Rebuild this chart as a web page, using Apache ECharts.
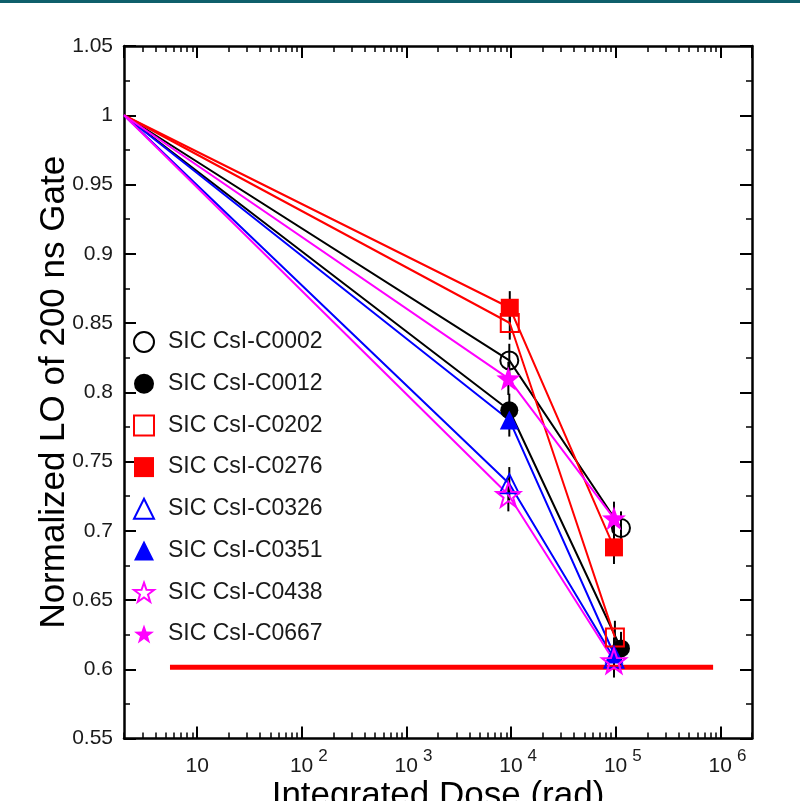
<!DOCTYPE html>
<html>
<head>
<meta charset="utf-8">
<script src="https://cdn.jsdelivr.net/npm/echarts@6/dist/echarts.min.js"></script>
<style>
  html, body { margin: 0; padding: 0; background: #fff; }
  #chart { width: 800px; height: 801px; }
</style>
</head>
<body>
<div id="chart"></div>
<script>
// crystal names, in legend order
var names = ['SIC CsI-C0002', 'SIC CsI-C0012', 'SIC CsI-C0202', 'SIC CsI-C0276',
             'SIC CsI-C0326', 'SIC CsI-C0351', 'SIC CsI-C0438', 'SIC CsI-C0667'];
// dose points (rad): start, ~1e4, ~1e5 (per crystal)
var startDose = 2;
var midDose = [9600, 9600, 9700, 9700, 9600, 9600, 9400, 9400];
var highDose = [112000, 112000, 98000, 96000, 96000, 96000, 96000, 96000];
// normalized light output
var startLO = 1.0;
var midLO = [0.823, 0.787, 0.850, 0.861, 0.734, 0.780, 0.726, 0.810];
var highLO = [0.702, 0.615, 0.623, 0.688, 0.608, 0.611, 0.606, 0.709];
var errLO = 0.012;
// spec line
var specDose = [5.5, 850000];
var specLO = 0.6015;
// x tick decades
var decades = [1, 10, 100, 1000, 10000, 100000, 1000000];

var colors = ['#000000', '#000000', '#ff0000', '#ff0000', '#0000ff', '#0000ff', '#ff00ff', '#ff00ff'];
var starPath = 'path://M0,-10 L2.35,-3.24 L9.51,-3.09 L3.8,1.24 L5.88,8.09 L0,4 L-5.88,8.09 L-3.8,1.24 L-9.51,-3.09 L-2.35,-3.24 Z';
var symbols = ['circle', 'circle', 'rect', 'rect', 'triangle', 'triangle', starPath, starPath];
var sizes = [18, 18, 18, 18, 19, 19, 24, 24];
var filled = [false, true, false, true, false, true, false, true];

var font = 'Liberation Sans';
var chart = echarts.init(document.getElementById('chart'));

// minor log ticks (2..9 per decade) placed on a helper value axis in log10 units
var minorTicks = [];
decades.forEach(function (d) {
    for (var k = 2; k <= 9; k++) minorTicks.push(Math.log10(d * k));
});

var series = [];
var legendData = [];

// error bars
var errData = [];
for (var i = 0; i < names.length; i++) {
    errData.push([midDose[i], midLO[i] - errLO, midLO[i] + errLO]);
    errData.push([highDose[i], highLO[i] - errLO, highLO[i] + errLO]);
}
series.push({
    type: 'custom',
    xAxisIndex: 0, yAxisIndex: 0,
    z: 1,
    data: errData,
    encode: { x: 0, y: [1, 2] },
    renderItem: function (params, api) {
        var p1 = api.coord([api.value(0), api.value(1)]);
        var p2 = api.coord([api.value(0), api.value(2)]);
        return {
            type: 'line',
            shape: { x1: p1[0], y1: p1[1], x2: p2[0], y2: p2[1] },
            style: { stroke: '#000', lineWidth: 2 }
        };
    }
});

// spec line
series.push({
    type: 'line',
    z: 2,
    symbol: 'none',
    lineStyle: { color: '#ff0000', width: 5 },
    data: [[specDose[0], specLO], [specDose[1], specLO]]
});

for (var j = 0; j < names.length; j++) {
    var style = filled[j]
        ? { color: colors[j], borderColor: colors[j], borderWidth: 0 }
        : { color: 'rgba(255,255,255,0)', borderColor: colors[j], borderWidth: 2 };
    series.push({
        name: names[j],
        type: 'line',
        z: 3,
        symbol: symbols[j],
        symbolSize: sizes[j],
        lineStyle: { color: colors[j], width: 2 },
        itemStyle: style,
        data: [
            { value: [startDose, startLO], symbol: 'none' },
            [midDose[j], midLO[j]],
            [highDose[j], highLO[j]]
        ]
    });
    legendData.push({
        name: names[j],
        icon: symbols[j],
        itemStyle: filled[j]
            ? { color: colors[j], borderWidth: 0 }
            : { color: '#fff', borderColor: colors[j], borderWidth: 2 }
    });
}

var gridBox = { left: 124, top: 46, right: 48, bottom: 62.5, outerBoundsMode: 'none', containLabel: false };
var frame = { show: true, onZero: false, lineStyle: { color: '#000', width: 2.5 } };

var option = {
    animation: false,
    backgroundColor: '#fff',
    graphic: [{
        type: 'rect', left: 0, top: 0,
        shape: { width: 800, height: 3 },
        style: { fill: '#0e5f6b' }
    }],
    grid: [
        Object.assign({}, gridBox),
        Object.assign({}, gridBox)
    ],
    legend: {
        orient: 'vertical',
        left: 133, top: 330,
        padding: 0,
        itemWidth: 20, itemHeight: 20,
        itemGap: 17.7,
        textStyle: { fontFamily: font, fontSize: 23, color: '#1a1a1a', lineHeight: 24, padding: [0, 0, 0, 9] },
        data: legendData
    },
    xAxis: [{
        type: 'log', gridIndex: 0, position: 'bottom',
        logBase: 10, min: 2, max: 2000000,
        name: 'Integrated Dose (rad)', nameLocation: 'middle', nameGap: 40,
        nameMoveOverlap: false,
        nameTextStyle: { fontFamily: font, fontSize: 35, color: '#000' },
        axisLine: frame,
        axisTick: { inside: true, length: 12, lineStyle: { color: '#000', width: 2 } },
        splitLine: { show: false },
        axisLabel: {
            showMinLabel: false, showMaxLabel: false, margin: 9,
            formatter: function (v) {
                var e = Math.round(Math.log10(v));
                if (e === 1) return '{b|10}';
                return '{p|}{b|10}{s|' + e + '}';
            },
            rich: {
                b: { fontFamily: font, fontSize: 21, color: '#1a1a1a', lineHeight: 38 },
                s: { fontFamily: font, fontSize: 17, color: '#1a1a1a', lineHeight: 10, verticalAlign: 'top', padding: [0, 0, 0, 5] },
                p: { width: 14 }
            }
        }
    }, {
        type: 'log', gridIndex: 0, position: 'top',
        logBase: 10, min: 2, max: 2000000,
        axisLine: frame,
        axisTick: { inside: true, length: 12, lineStyle: { color: '#000', width: 2 } },
        axisLabel: { show: false },
        splitLine: { show: false }
    }, {
        type: 'value', gridIndex: 1, position: 'bottom',
        min: Math.log10(2), max: Math.log10(2000000),
        axisLine: { show: false },
        axisTick: { inside: true, length: 6, customValues: minorTicks, lineStyle: { color: '#000', width: 1.5 } },
        axisLabel: { show: false },
        splitLine: { show: false }
    }, {
        type: 'value', gridIndex: 1, position: 'top',
        min: Math.log10(2), max: Math.log10(2000000),
        axisLine: { show: false },
        axisTick: { inside: true, length: 6, customValues: minorTicks, lineStyle: { color: '#000', width: 1.5 } },
        axisLabel: { show: false },
        splitLine: { show: false }
    }],
    yAxis: [{
        type: 'value', gridIndex: 0, position: 'left',
        min: 0.55, max: 1.05, interval: 0.05,
        name: 'Normalized LO of 200 ns Gate', nameLocation: 'middle', nameGap: 52,
        nameMoveOverlap: false,
        nameTextStyle: { fontFamily: font, fontSize: 35, color: '#000' },
        axisLine: frame,
        axisTick: { inside: true, length: 12, lineStyle: { color: '#000', width: 2 } },
        minorTick: { show: true, splitNumber: 2, length: 6, lineStyle: { color: '#000', width: 1.5 } },
        splitLine: { show: false },
        axisLabel: { fontFamily: font, fontSize: 21, color: '#1a1a1a', margin: 11 }
    }, {
        type: 'value', gridIndex: 0, position: 'right',
        min: 0.55, max: 1.05, interval: 0.05,
        axisLine: frame,
        axisTick: { inside: true, length: 12, lineStyle: { color: '#000', width: 2 } },
        minorTick: { show: true, splitNumber: 2, length: 6, lineStyle: { color: '#000', width: 1.5 } },
        splitLine: { show: false },
        axisLabel: { show: false }
    }, {
        type: 'value', gridIndex: 1, min: 0, max: 1,
        show: false
    }],
    series: series
};

chart.setOption(option);
</script>
</body>
</html>
